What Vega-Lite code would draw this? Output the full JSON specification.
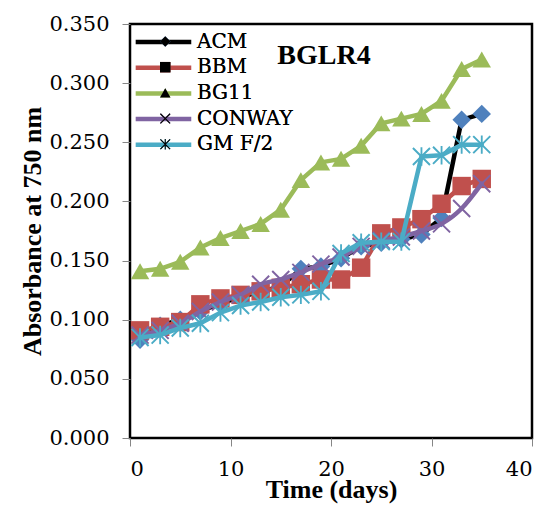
{
  "$schema": "https://vega.github.io/schema/vega-lite/v6.json",
  "width": 402,
  "height": 414,
  "autosize": {"type": "none"},
  "padding": {"left": 130, "top": 24, "right": 26, "bottom": 72},
  "background": "#ffffff",
  "title": {"text": "BGLR4", "font": "Liberation Serif", "fontSize": 28, "fontWeight": "bold", "offset": -39, "dy": 40, "baseline": "alphabetic", "anchor": "middle", "dx": -7, "color": "#000000"},
  "config": {
    "view": {"stroke": "#000000", "strokeWidth": 2.5},
    "axis": {"domain": false, "grid": false, "tickColor": "#868686", "tickSize": 8, "tickWidth": 1, "labelFont": "DejaVu Serif", "labelFontSize": 21, "labelColor": "#000000", "titleFont": "Liberation Serif", "titleFontSize": 26, "titleFontWeight": "bold", "titleColor": "#000000"}
  },
  "data": {"values": [
    {"series": "ACM", "day": 1, "value": 0.083}, {"series": "ACM", "day": 3, "value": 0.095}, {"series": "ACM", "day": 5, "value": 0.100}, {"series": "ACM", "day": 7, "value": 0.107}, {"series": "ACM", "day": 9, "value": 0.114}, {"series": "ACM", "day": 11, "value": 0.119}, {"series": "ACM", "day": 13, "value": 0.124}, {"series": "ACM", "day": 15, "value": 0.128}, {"series": "ACM", "day": 17, "value": 0.143}, {"series": "ACM", "day": 19, "value": 0.145}, {"series": "ACM", "day": 21, "value": 0.152}, {"series": "ACM", "day": 23, "value": 0.162}, {"series": "ACM", "day": 25, "value": 0.165}, {"series": "ACM", "day": 27, "value": 0.168}, {"series": "ACM", "day": 29, "value": 0.172}, {"series": "ACM", "day": 31, "value": 0.186}, {"series": "ACM", "day": 33, "value": 0.269}, {"series": "ACM", "day": 35, "value": 0.274},
    {"series": "BBM", "day": 1, "value": 0.091}, {"series": "BBM", "day": 3, "value": 0.094}, {"series": "BBM", "day": 5, "value": 0.098}, {"series": "BBM", "day": 7, "value": 0.113}, {"series": "BBM", "day": 9, "value": 0.118}, {"series": "BBM", "day": 11, "value": 0.121}, {"series": "BBM", "day": 13, "value": 0.124}, {"series": "BBM", "day": 15, "value": 0.127}, {"series": "BBM", "day": 17, "value": 0.130}, {"series": "BBM", "day": 19, "value": 0.134}, {"series": "BBM", "day": 21, "value": 0.134}, {"series": "BBM", "day": 23, "value": 0.144}, {"series": "BBM", "day": 25, "value": 0.173}, {"series": "BBM", "day": 27, "value": 0.178}, {"series": "BBM", "day": 29, "value": 0.185}, {"series": "BBM", "day": 31, "value": 0.198}, {"series": "BBM", "day": 33, "value": 0.213}, {"series": "BBM", "day": 35, "value": 0.219},
    {"series": "BG11", "day": 1, "value": 0.141}, {"series": "BG11", "day": 3, "value": 0.143}, {"series": "BG11", "day": 5, "value": 0.149}, {"series": "BG11", "day": 7, "value": 0.161}, {"series": "BG11", "day": 9, "value": 0.169}, {"series": "BG11", "day": 11, "value": 0.175}, {"series": "BG11", "day": 13, "value": 0.181}, {"series": "BG11", "day": 15, "value": 0.193}, {"series": "BG11", "day": 17, "value": 0.218}, {"series": "BG11", "day": 19, "value": 0.233}, {"series": "BG11", "day": 21, "value": 0.236}, {"series": "BG11", "day": 23, "value": 0.247}, {"series": "BG11", "day": 25, "value": 0.266}, {"series": "BG11", "day": 27, "value": 0.270}, {"series": "BG11", "day": 29, "value": 0.274}, {"series": "BG11", "day": 31, "value": 0.285}, {"series": "BG11", "day": 33, "value": 0.312}, {"series": "BG11", "day": 35, "value": 0.320},
    {"series": "CONWAY", "day": 1, "value": 0.087}, {"series": "CONWAY", "day": 3, "value": 0.091}, {"series": "CONWAY", "day": 5, "value": 0.097}, {"series": "CONWAY", "day": 7, "value": 0.107}, {"series": "CONWAY", "day": 9, "value": 0.115}, {"series": "CONWAY", "day": 11, "value": 0.121}, {"series": "CONWAY", "day": 13, "value": 0.130}, {"series": "CONWAY", "day": 15, "value": 0.134}, {"series": "CONWAY", "day": 17, "value": 0.140}, {"series": "CONWAY", "day": 19, "value": 0.147}, {"series": "CONWAY", "day": 21, "value": 0.153}, {"series": "CONWAY", "day": 23, "value": 0.162}, {"series": "CONWAY", "day": 25, "value": 0.167}, {"series": "CONWAY", "day": 27, "value": 0.170}, {"series": "CONWAY", "day": 29, "value": 0.175}, {"series": "CONWAY", "day": 31, "value": 0.181}, {"series": "CONWAY", "day": 33, "value": 0.194}, {"series": "CONWAY", "day": 35, "value": 0.215},
    {"series": "GM F/2", "day": 1, "value": 0.085}, {"series": "GM F/2", "day": 3, "value": 0.087}, {"series": "GM F/2", "day": 5, "value": 0.093}, {"series": "GM F/2", "day": 7, "value": 0.097}, {"series": "GM F/2", "day": 9, "value": 0.106}, {"series": "GM F/2", "day": 11, "value": 0.112}, {"series": "GM F/2", "day": 13, "value": 0.115}, {"series": "GM F/2", "day": 15, "value": 0.119}, {"series": "GM F/2", "day": 17, "value": 0.121}, {"series": "GM F/2", "day": 19, "value": 0.124}, {"series": "GM F/2", "day": 21, "value": 0.156}, {"series": "GM F/2", "day": 23, "value": 0.165}, {"series": "GM F/2", "day": 25, "value": 0.166}, {"series": "GM F/2", "day": 27, "value": 0.166}, {"series": "GM F/2", "day": 29, "value": 0.238}, {"series": "GM F/2", "day": 31, "value": 0.239}, {"series": "GM F/2", "day": 33, "value": 0.248}, {"series": "GM F/2", "day": 35, "value": 0.248}
  ]},
  "encoding": {
    "x": {"field": "day", "type": "quantitative", "scale": {"domain": [0, 40], "nice": false, "zero": false}, "axis": {"values": [0, 10, 20, 30, 40], "format": "d", "labelPadding": 12, "title": "Time (days)", "titlePadding": -3}},
    "y": {"field": "value", "type": "quantitative", "scale": {"domain": [0, 0.35], "nice": false}, "axis": {"values": [0, 0.05, 0.1, 0.15, 0.2, 0.25, 0.3, 0.35], "format": ".3f", "labelPadding": 13, "title": "Absorbance at 750 nm", "titlePadding": 3}}
  },
  "layer": [
    {"transform": [{"filter": "datum.series === 'ACM'"}], "mark": {"type": "line", "strokeWidth": 4.5, "strokeJoin": "round", "strokeCap": "round"},
     "encoding": {"stroke": {"field": "series", "type": "nominal", "scale": {"domain": ["ACM", "BBM", "BG11", "CONWAY", "GM F/2"], "range": ["#000000", "#C0504D", "#9BBB59", "#8064A2", "#4BACC6"]}, "legend": {"orient": "top-left", "offset": 7.5, "title": null, "padding": 0, "symbolType": "M-2.35,0L8.25,0", "symbolSize": 110, "symbolStrokeWidth": 4.5, "labelFont": "DejaVu Serif", "labelFontSize": 20, "labelOpacity": 0, "rowPadding": 5.7}}}},
    {"transform": [{"filter": "datum.series === 'ACM'"}], "mark": {"type": "point", "filled": true, "size": 340, "opacity": 1},
     "encoding": {
       "color": {"field": "series", "type": "nominal", "scale": {"domain": ["ACM", "BBM", "BG11", "CONWAY", "GM F/2"], "range": ["#4F81BD", "#C0504D", "#9BBB59", "#8064A2", "#4BACC6"]}, "legend": {"orient": "none", "legendX": 25.25, "legendY": 7.5, "title": null, "padding": 0, "symbolSize": 110, "symbolStrokeWidth": 0, "labelFont": "DejaVu Serif", "labelFontSize": 20, "labelColor": "#000000", "labelOffset": 21.75, "rowPadding": 5.7}},
       "shape": {"field": "series", "type": "nominal", "scale": {"domain": ["ACM", "BBM", "BG11", "CONWAY", "GM F/2"], "range": ["diamond", "square", "triangle-up", "M-1,-0.85L-0.85,-1L1,0.85L0.85,1ZM-0.85,1L-1,0.85L0.85,-1L1,-0.85Z", "M-1,-0.85L-0.85,-1L1,0.85L0.85,1ZM-0.85,1L-1,0.85L0.85,-1L1,-0.85ZM-0.1,-1L0.1,-1L0.1,1L-0.1,1Z"]}, "legend": {"orient": "none", "legendX": 25.25, "legendY": 7.5, "title": null, "padding": 0, "symbolSize": 110, "symbolStrokeWidth": 0, "labelFont": "DejaVu Serif", "labelFontSize": 20, "labelColor": "#000000", "labelOffset": 21.75, "rowPadding": 5.7}}}},
    {"transform": [{"filter": "datum.series === 'BBM'"}], "mark": {"type": "line", "strokeWidth": 4.5, "strokeJoin": "round", "strokeCap": "round"},
     "encoding": {"stroke": {"field": "series", "type": "nominal"}}},
    {"transform": [{"filter": "datum.series === 'BBM'"}], "mark": {"type": "point", "filled": true, "size": 340, "opacity": 1},
     "encoding": {"color": {"field": "series", "type": "nominal"}, "shape": {"field": "series", "type": "nominal"}}},
    {"transform": [{"filter": "datum.series === 'BG11'"}], "mark": {"type": "line", "strokeWidth": 4.5, "strokeJoin": "round", "strokeCap": "round"},
     "encoding": {"stroke": {"field": "series", "type": "nominal"}}},
    {"transform": [{"filter": "datum.series === 'BG11'"}], "mark": {"type": "point", "filled": true, "size": 340, "opacity": 1},
     "encoding": {"color": {"field": "series", "type": "nominal"}, "shape": {"field": "series", "type": "nominal"}}},
    {"transform": [{"filter": "datum.series === 'CONWAY'"}], "mark": {"type": "line", "strokeWidth": 4.5, "strokeJoin": "round", "strokeCap": "round", "interpolate": "monotone"},
     "encoding": {"stroke": {"field": "series", "type": "nominal"}}},
    {"transform": [{"filter": "datum.series === 'CONWAY'"}], "mark": {"type": "point", "filled": true, "size": 340, "opacity": 1},
     "encoding": {"color": {"field": "series", "type": "nominal"}, "shape": {"field": "series", "type": "nominal"}}},
    {"transform": [{"filter": "datum.series === 'GM F/2'"}], "mark": {"type": "line", "strokeWidth": 4.5, "strokeJoin": "round", "strokeCap": "round"},
     "encoding": {"stroke": {"field": "series", "type": "nominal"}}},
    {"transform": [{"filter": "datum.series === 'GM F/2'"}], "mark": {"type": "point", "filled": true, "size": 340, "opacity": 1},
     "encoding": {"color": {"field": "series", "type": "nominal"}, "shape": {"field": "series", "type": "nominal"}}}
  ]
}
